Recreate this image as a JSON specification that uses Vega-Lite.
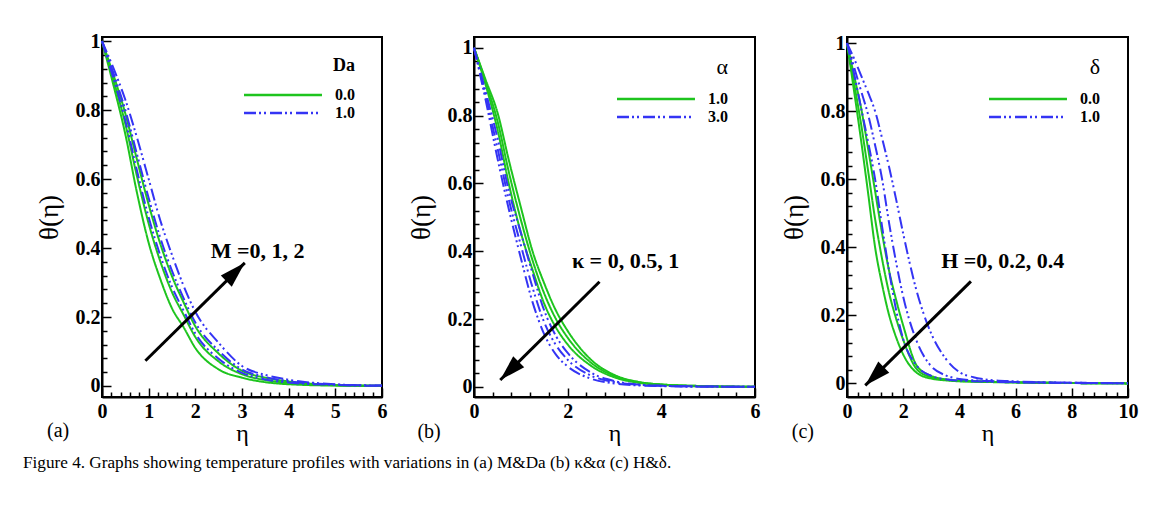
{
"$schema": "https://vega.github.io/schema/vega-lite/v6.json",
"padding": {"left": 23, "top": 30, "right": 5, "bottom": 5},
"background": "white",
"bounds": "flush",
"spacing": 92,
"title": {"text": "Figure 4. Graphs showing temperature profiles with variations in (a) M&Da (b) κ&α (c) H&δ.", "orient": "bottom", "anchor": "start", "frame": "bounds", "font": "Liberation Serif", "fontSize": 17.2, "fontWeight": "normal", "color": "black", "offset": 8, "dx": -11},
"datasets": {
"a": [
{"x":0,"y":1,"g":"0.0","c":"M0"},{"x":0.25,"y":0.87,"g":"0.0","c":"M0"},{"x":0.5,"y":0.73,"g":"0.0","c":"M0"},{"x":0.75,"y":0.56,"g":"0.0","c":"M0"},{"x":1,"y":0.415,"g":"0.0","c":"M0"},{"x":1.25,"y":0.31,"g":"0.0","c":"M0"},{"x":1.5,"y":0.225,"g":"0.0","c":"M0"},{"x":1.75,"y":0.17,"g":"0.0","c":"M0"},{"x":2,"y":0.11,"g":"0.0","c":"M0"},{"x":2.5,"y":0.048,"g":"0.0","c":"M0"},{"x":3,"y":0.024,"g":"0.0","c":"M0"},{"x":3.5,"y":0.011,"g":"0.0","c":"M0"},{"x":4,"y":0.005,"g":"0.0","c":"M0"},{"x":5,"y":0.001,"g":"0.0","c":"M0"},{"x":6,"y":0,"g":"0.0","c":"M0"},
{"x":0,"y":1,"g":"0.0","c":"M1"},{"x":0.25,"y":0.885,"g":"0.0","c":"M1"},{"x":0.5,"y":0.76,"g":"0.0","c":"M1"},{"x":0.75,"y":0.608,"g":"0.0","c":"M1"},{"x":1,"y":0.471,"g":"0.0","c":"M1"},{"x":1.25,"y":0.361,"g":"0.0","c":"M1"},{"x":1.5,"y":0.272,"g":"0.0","c":"M1"},{"x":1.75,"y":0.206,"g":"0.0","c":"M1"},{"x":2,"y":0.142,"g":"0.0","c":"M1"},{"x":2.5,"y":0.071,"g":"0.0","c":"M1"},{"x":3,"y":0.034,"g":"0.0","c":"M1"},{"x":3.5,"y":0.017,"g":"0.0","c":"M1"},{"x":4,"y":0.009,"g":"0.0","c":"M1"},{"x":5,"y":0.002,"g":"0.0","c":"M1"},{"x":6,"y":0,"g":"0.0","c":"M1"},
{"x":0,"y":1,"g":"0.0","c":"M2"},{"x":0.25,"y":0.9,"g":"0.0","c":"M2"},{"x":0.5,"y":0.79,"g":"0.0","c":"M2"},{"x":0.75,"y":0.656,"g":"0.0","c":"M2"},{"x":1,"y":0.526,"g":"0.0","c":"M2"},{"x":1.25,"y":0.412,"g":"0.0","c":"M2"},{"x":1.5,"y":0.318,"g":"0.0","c":"M2"},{"x":1.75,"y":0.242,"g":"0.0","c":"M2"},{"x":2,"y":0.173,"g":"0.0","c":"M2"},{"x":2.5,"y":0.094,"g":"0.0","c":"M2"},{"x":3,"y":0.044,"g":"0.0","c":"M2"},{"x":3.5,"y":0.024,"g":"0.0","c":"M2"},{"x":4,"y":0.013,"g":"0.0","c":"M2"},{"x":5,"y":0.003,"g":"0.0","c":"M2"},{"x":6,"y":0.001,"g":"0.0","c":"M2"},
{"x":0,"y":1,"g":"1.0","c":"B0"},{"x":0.25,"y":0.89,"g":"1.0","c":"B0"},{"x":0.5,"y":0.77,"g":"1.0","c":"B0"},{"x":0.75,"y":0.624,"g":"1.0","c":"B0"},{"x":1,"y":0.489,"g":"1.0","c":"B0"},{"x":1.25,"y":0.378,"g":"1.0","c":"B0"},{"x":1.5,"y":0.287,"g":"1.0","c":"B0"},{"x":1.75,"y":0.218,"g":"1.0","c":"B0"},{"x":2,"y":0.152,"g":"1.0","c":"B0"},{"x":2.5,"y":0.079,"g":"1.0","c":"B0"},{"x":3,"y":0.038,"g":"1.0","c":"B0"},{"x":3.5,"y":0.019,"g":"1.0","c":"B0"},{"x":4,"y":0.01,"g":"1.0","c":"B0"},{"x":5,"y":0.003,"g":"1.0","c":"B0"},{"x":6,"y":0,"g":"1.0","c":"B0"},
{"x":0,"y":1,"g":"1.0","c":"B1"},{"x":0.25,"y":0.905,"g":"1.0","c":"B1"},{"x":0.5,"y":0.8,"g":"1.0","c":"B1"},{"x":0.75,"y":0.672,"g":"1.0","c":"B1"},{"x":1,"y":0.545,"g":"1.0","c":"B1"},{"x":1.25,"y":0.429,"g":"1.0","c":"B1"},{"x":1.5,"y":0.334,"g":"1.0","c":"B1"},{"x":1.75,"y":0.254,"g":"1.0","c":"B1"},{"x":2,"y":0.184,"g":"1.0","c":"B1"},{"x":2.5,"y":0.102,"g":"1.0","c":"B1"},{"x":3,"y":0.048,"g":"1.0","c":"B1"},{"x":3.5,"y":0.026,"g":"1.0","c":"B1"},{"x":4,"y":0.014,"g":"1.0","c":"B1"},{"x":5,"y":0.004,"g":"1.0","c":"B1"},{"x":6,"y":0.001,"g":"1.0","c":"B1"},
{"x":0,"y":1,"g":"1.0","c":"B2"},{"x":0.25,"y":0.92,"g":"1.0","c":"B2"},{"x":0.5,"y":0.83,"g":"1.0","c":"B2"},{"x":0.75,"y":0.72,"g":"1.0","c":"B2"},{"x":1,"y":0.6,"g":"1.0","c":"B2"},{"x":1.25,"y":0.48,"g":"1.0","c":"B2"},{"x":1.5,"y":0.38,"g":"1.0","c":"B2"},{"x":1.75,"y":0.29,"g":"1.0","c":"B2"},{"x":2,"y":0.215,"g":"1.0","c":"B2"},{"x":2.5,"y":0.125,"g":"1.0","c":"B2"},{"x":3,"y":0.058,"g":"1.0","c":"B2"},{"x":3.5,"y":0.032,"g":"1.0","c":"B2"},{"x":4,"y":0.018,"g":"1.0","c":"B2"},{"x":5,"y":0.005,"g":"1.0","c":"B2"},{"x":6,"y":0.001,"g":"1.0","c":"B2"}
],
"b": [
{"x":0,"y":1,"g":"1.0","c":"G0"},{"x":0.25,"y":0.905,"g":"1.0","c":"G0"},{"x":0.5,"y":0.81,"g":"1.0","c":"G0"},{"x":0.75,"y":0.665,"g":"1.0","c":"G0"},{"x":1,"y":0.53,"g":"1.0","c":"G0"},{"x":1.25,"y":0.4,"g":"1.0","c":"G0"},{"x":1.5,"y":0.305,"g":"1.0","c":"G0"},{"x":1.75,"y":0.225,"g":"1.0","c":"G0"},{"x":2,"y":0.165,"g":"1.0","c":"G0"},{"x":2.5,"y":0.08,"g":"1.0","c":"G0"},{"x":3,"y":0.035,"g":"1.0","c":"G0"},{"x":3.5,"y":0.015,"g":"1.0","c":"G0"},{"x":4,"y":0.007,"g":"1.0","c":"G0"},{"x":5,"y":0.002,"g":"1.0","c":"G0"},{"x":6,"y":0,"g":"1.0","c":"G0"},
{"x":0,"y":1,"g":"1.0","c":"G5"},{"x":0.25,"y":0.898,"g":"1.0","c":"G5"},{"x":0.5,"y":0.785,"g":"1.0","c":"G5"},{"x":0.75,"y":0.63,"g":"1.0","c":"G5"},{"x":1,"y":0.493,"g":"1.0","c":"G5"},{"x":1.25,"y":0.373,"g":"1.0","c":"G5"},{"x":1.5,"y":0.275,"g":"1.0","c":"G5"},{"x":1.75,"y":0.2,"g":"1.0","c":"G5"},{"x":2,"y":0.145,"g":"1.0","c":"G5"},{"x":2.5,"y":0.071,"g":"1.0","c":"G5"},{"x":3,"y":0.032,"g":"1.0","c":"G5"},{"x":3.5,"y":0.014,"g":"1.0","c":"G5"},{"x":4,"y":0.007,"g":"1.0","c":"G5"},{"x":5,"y":0.002,"g":"1.0","c":"G5"},{"x":6,"y":0,"g":"1.0","c":"G5"},
{"x":0,"y":1,"g":"1.0","c":"G1"},{"x":0.25,"y":0.89,"g":"1.0","c":"G1"},{"x":0.5,"y":0.76,"g":"1.0","c":"G1"},{"x":0.75,"y":0.595,"g":"1.0","c":"G1"},{"x":1,"y":0.455,"g":"1.0","c":"G1"},{"x":1.25,"y":0.345,"g":"1.0","c":"G1"},{"x":1.5,"y":0.245,"g":"1.0","c":"G1"},{"x":1.75,"y":0.175,"g":"1.0","c":"G1"},{"x":2,"y":0.125,"g":"1.0","c":"G1"},{"x":2.5,"y":0.062,"g":"1.0","c":"G1"},{"x":3,"y":0.028,"g":"1.0","c":"G1"},{"x":3.5,"y":0.012,"g":"1.0","c":"G1"},{"x":4,"y":0.006,"g":"1.0","c":"G1"},{"x":5,"y":0.001,"g":"1.0","c":"G1"},{"x":6,"y":0,"g":"1.0","c":"G1"},
{"x":0,"y":1,"g":"3.0","c":"B0"},{"x":0.25,"y":0.87,"g":"3.0","c":"B0"},{"x":0.5,"y":0.735,"g":"3.0","c":"B0"},{"x":0.75,"y":0.575,"g":"3.0","c":"B0"},{"x":1,"y":0.455,"g":"3.0","c":"B0"},{"x":1.25,"y":0.335,"g":"3.0","c":"B0"},{"x":1.5,"y":0.225,"g":"3.0","c":"B0"},{"x":1.75,"y":0.15,"g":"3.0","c":"B0"},{"x":2,"y":0.1,"g":"3.0","c":"B0"},{"x":2.5,"y":0.042,"g":"3.0","c":"B0"},{"x":3,"y":0.017,"g":"3.0","c":"B0"},{"x":3.5,"y":0.007,"g":"3.0","c":"B0"},{"x":4,"y":0.003,"g":"3.0","c":"B0"},{"x":5,"y":0.001,"g":"3.0","c":"B0"},{"x":6,"y":0,"g":"3.0","c":"B0"},
{"x":0,"y":1,"g":"3.0","c":"B5"},{"x":0.25,"y":0.858,"g":"3.0","c":"B5"},{"x":0.5,"y":0.705,"g":"3.0","c":"B5"},{"x":0.75,"y":0.548,"g":"3.0","c":"B5"},{"x":1,"y":0.418,"g":"3.0","c":"B5"},{"x":1.25,"y":0.293,"g":"3.0","c":"B5"},{"x":1.5,"y":0.19,"g":"3.0","c":"B5"},{"x":1.75,"y":0.123,"g":"3.0","c":"B5"},{"x":2,"y":0.08,"g":"3.0","c":"B5"},{"x":2.5,"y":0.033,"g":"3.0","c":"B5"},{"x":3,"y":0.014,"g":"3.0","c":"B5"},{"x":3.5,"y":0.006,"g":"3.0","c":"B5"},{"x":4,"y":0.003,"g":"3.0","c":"B5"},{"x":5,"y":0.001,"g":"3.0","c":"B5"},{"x":6,"y":0,"g":"3.0","c":"B5"},
{"x":0,"y":1,"g":"3.0","c":"B1"},{"x":0.25,"y":0.845,"g":"3.0","c":"B1"},{"x":0.5,"y":0.675,"g":"3.0","c":"B1"},{"x":0.75,"y":0.52,"g":"3.0","c":"B1"},{"x":1,"y":0.38,"g":"3.0","c":"B1"},{"x":1.25,"y":0.25,"g":"3.0","c":"B1"},{"x":1.5,"y":0.155,"g":"3.0","c":"B1"},{"x":1.75,"y":0.095,"g":"3.0","c":"B1"},{"x":2,"y":0.06,"g":"3.0","c":"B1"},{"x":2.5,"y":0.024,"g":"3.0","c":"B1"},{"x":3,"y":0.01,"g":"3.0","c":"B1"},{"x":3.5,"y":0.004,"g":"3.0","c":"B1"},{"x":4,"y":0.002,"g":"3.0","c":"B1"},{"x":5,"y":0,"g":"3.0","c":"B1"},{"x":6,"y":0,"g":"3.0","c":"B1"}
],
"c": [
{"x":0,"y":1,"g":"0.0","c":"G0"},{"x":0.25,"y":0.905,"g":"0.0","c":"G0"},{"x":0.5,"y":0.81,"g":"0.0","c":"G0"},{"x":0.75,"y":0.69,"g":"0.0","c":"G0"},{"x":1,"y":0.565,"g":"0.0","c":"G0"},{"x":1.25,"y":0.44,"g":"0.0","c":"G0"},{"x":1.5,"y":0.33,"g":"0.0","c":"G0"},{"x":1.75,"y":0.245,"g":"0.0","c":"G0"},{"x":2,"y":0.17,"g":"0.0","c":"G0"},{"x":2.5,"y":0.05,"g":"0.0","c":"G0"},{"x":3,"y":0.022,"g":"0.0","c":"G0"},{"x":3.5,"y":0.012,"g":"0.0","c":"G0"},{"x":4,"y":0.008,"g":"0.0","c":"G0"},{"x":4.5,"y":0.006,"g":"0.0","c":"G0"},{"x":5,"y":0.005,"g":"0.0","c":"G0"},{"x":6,"y":0.003,"g":"0.0","c":"G0"},{"x":8,"y":0.001,"g":"0.0","c":"G0"},{"x":10,"y":0,"g":"0.0","c":"G0"},
{"x":0,"y":1,"g":"0.0","c":"G2"},{"x":0.25,"y":0.883,"g":"0.0","c":"G2"},{"x":0.5,"y":0.763,"g":"0.0","c":"G2"},{"x":0.75,"y":0.625,"g":"0.0","c":"G2"},{"x":1,"y":0.483,"g":"0.0","c":"G2"},{"x":1.25,"y":0.365,"g":"0.0","c":"G2"},{"x":1.5,"y":0.265,"g":"0.0","c":"G2"},{"x":1.75,"y":0.19,"g":"0.0","c":"G2"},{"x":2,"y":0.128,"g":"0.0","c":"G2"},{"x":2.5,"y":0.04,"g":"0.0","c":"G2"},{"x":3,"y":0.018,"g":"0.0","c":"G2"},{"x":3.5,"y":0.011,"g":"0.0","c":"G2"},{"x":4,"y":0.007,"g":"0.0","c":"G2"},{"x":4.5,"y":0.006,"g":"0.0","c":"G2"},{"x":5,"y":0.005,"g":"0.0","c":"G2"},{"x":6,"y":0.003,"g":"0.0","c":"G2"},{"x":8,"y":0.001,"g":"0.0","c":"G2"},{"x":10,"y":0,"g":"0.0","c":"G2"},
{"x":0,"y":1,"g":"0.0","c":"G4"},{"x":0.25,"y":0.86,"g":"0.0","c":"G4"},{"x":0.5,"y":0.715,"g":"0.0","c":"G4"},{"x":0.75,"y":0.56,"g":"0.0","c":"G4"},{"x":1,"y":0.4,"g":"0.0","c":"G4"},{"x":1.25,"y":0.29,"g":"0.0","c":"G4"},{"x":1.5,"y":0.2,"g":"0.0","c":"G4"},{"x":1.75,"y":0.135,"g":"0.0","c":"G4"},{"x":2,"y":0.085,"g":"0.0","c":"G4"},{"x":2.5,"y":0.03,"g":"0.0","c":"G4"},{"x":3,"y":0.014,"g":"0.0","c":"G4"},{"x":3.5,"y":0.009,"g":"0.0","c":"G4"},{"x":4,"y":0.006,"g":"0.0","c":"G4"},{"x":4.5,"y":0.005,"g":"0.0","c":"G4"},{"x":5,"y":0.004,"g":"0.0","c":"G4"},{"x":6,"y":0.003,"g":"0.0","c":"G4"},{"x":8,"y":0.001,"g":"0.0","c":"G4"},{"x":10,"y":0,"g":"0.0","c":"G4"},
{"x":0,"y":1,"g":"1.0","c":"B0"},{"x":0.25,"y":0.955,"g":"1.0","c":"B0"},{"x":0.5,"y":0.905,"g":"1.0","c":"B0"},{"x":0.75,"y":0.855,"g":"1.0","c":"B0"},{"x":1,"y":0.8,"g":"1.0","c":"B0"},{"x":1.25,"y":0.72,"g":"1.0","c":"B0"},{"x":1.5,"y":0.635,"g":"1.0","c":"B0"},{"x":1.75,"y":0.54,"g":"1.0","c":"B0"},{"x":2,"y":0.44,"g":"1.0","c":"B0"},{"x":2.5,"y":0.265,"g":"1.0","c":"B0"},{"x":3,"y":0.146,"g":"1.0","c":"B0"},{"x":3.5,"y":0.074,"g":"1.0","c":"B0"},{"x":4,"y":0.033,"g":"1.0","c":"B0"},{"x":4.5,"y":0.018,"g":"1.0","c":"B0"},{"x":5,"y":0.011,"g":"1.0","c":"B0"},{"x":6,"y":0.006,"g":"1.0","c":"B0"},{"x":8,"y":0.002,"g":"1.0","c":"B0"},{"x":10,"y":0.001,"g":"1.0","c":"B0"},
{"x":0,"y":1,"g":"1.0","c":"B2"},{"x":0.25,"y":0.93,"g":"1.0","c":"B2"},{"x":0.5,"y":0.86,"g":"1.0","c":"B2"},{"x":0.75,"y":0.79,"g":"1.0","c":"B2"},{"x":1,"y":0.7,"g":"1.0","c":"B2"},{"x":1.25,"y":0.6,"g":"1.0","c":"B2"},{"x":1.5,"y":0.47,"g":"1.0","c":"B2"},{"x":1.75,"y":0.355,"g":"1.0","c":"B2"},{"x":2,"y":0.255,"g":"1.0","c":"B2"},{"x":2.5,"y":0.12,"g":"1.0","c":"B2"},{"x":3,"y":0.05,"g":"1.0","c":"B2"},{"x":3.5,"y":0.024,"g":"1.0","c":"B2"},{"x":4,"y":0.013,"g":"1.0","c":"B2"},{"x":4.5,"y":0.009,"g":"1.0","c":"B2"},{"x":5,"y":0.007,"g":"1.0","c":"B2"},{"x":6,"y":0.004,"g":"1.0","c":"B2"},{"x":8,"y":0.002,"g":"1.0","c":"B2"},{"x":10,"y":0,"g":"1.0","c":"B2"},
{"x":0,"y":1,"g":"1.0","c":"B4"},{"x":0.25,"y":0.91,"g":"1.0","c":"B4"},{"x":0.5,"y":0.81,"g":"1.0","c":"B4"},{"x":0.75,"y":0.71,"g":"1.0","c":"B4"},{"x":1,"y":0.6,"g":"1.0","c":"B4"},{"x":1.25,"y":0.46,"g":"1.0","c":"B4"},{"x":1.5,"y":0.33,"g":"1.0","c":"B4"},{"x":1.75,"y":0.215,"g":"1.0","c":"B4"},{"x":2,"y":0.13,"g":"1.0","c":"B4"},{"x":2.5,"y":0.05,"g":"1.0","c":"B4"},{"x":3,"y":0.022,"g":"1.0","c":"B4"},{"x":3.5,"y":0.012,"g":"1.0","c":"B4"},{"x":4,"y":0.008,"g":"1.0","c":"B4"},{"x":4.5,"y":0.006,"g":"1.0","c":"B4"},{"x":5,"y":0.005,"g":"1.0","c":"B4"},{"x":6,"y":0.003,"g":"1.0","c":"B4"},{"x":8,"y":0.001,"g":"1.0","c":"B4"},{"x":10,"y":0,"g":"1.0","c":"B4"}
]
},
"hconcat": [
{
"width": 280, "height": 360,
"layer": [
{"data": {"name": "a"}, "mark": {"type": "line", "strokeWidth": 2, "interpolate": "monotone"},
 "encoding": {
  "x": {"field": "x", "type": "quantitative", "title": "η", "scale": {"domain": [0, 6], "nice": false, "zero": false},
        "axis": {"values": [0,0.2,0.4,0.6,0.8,1,1.2,1.4,1.6,1.8,2,2.2,2.4,2.6,2.8,3,3.2,3.4,3.6,3.8,4,4.2,4.4,4.6,4.8,5,5.2,5.4,5.6,5.8,6], "tickCount": 200, "format": ".0f", "labelOverlap": false,
                 "labelExpr": "abs(datum.value-round(datum.value))<0.001 ? datum.label : ''",
                 "tickSize": {"condition": {"test": "abs(datum.value-round(datum.value))<0.001", "value": -9}, "value": -5}}},
  "y": {"field": "y", "type": "quantitative", "title": "θ(η)", "scale": {"domain": [-0.032, 1.012], "nice": false, "zero": false},
        "axis": {"values": [0,0.04,0.08,0.12,0.16,0.2,0.24,0.28,0.32,0.36,0.4,0.44,0.48,0.52,0.56,0.6,0.64,0.68,0.72,0.76,0.8,0.84,0.88,0.92,0.96,1], "tickCount": 200, "format": ".1~f", "labelOverlap": false,
                 "labelExpr": "abs(datum.value*5-round(datum.value*5))<0.001 ? datum.label : ''",
                 "tickSize": {"condition": {"test": "abs(datum.value*5-round(datum.value*5))<0.001", "value": -9}, "value": -5}}},
  "color": {"field": "g", "type": "nominal", "scale": {"domain": ["0.0", "1.0"], "range": ["#1ec41e", "#3434f4"]},
            "legend": {"title": "Da", "orient": "none", "legendX": 134, "legendY": 20, "titleFontWeight": "bold", "titleFontSize": 18}},
  "strokeDash": {"field": "g", "type": "nominal", "scale": {"domain": ["0.0", "1.0"], "range": [[1, 0], [12, 3, 2, 3, 2, 4]]},
            "legend": {"title": "Da", "orient": "none", "legendX": 134, "legendY": 20, "titleFontWeight": "bold", "titleFontSize": 18}},
  "detail": {"field": "c"}
 }},
{"data": {"values": [{"x": 0.93, "y": 0.073, "x2": 3.06, "y2": 0.357}]}, "mark": {"type": "rule", "strokeWidth": 3, "color": "black"},
 "encoding": {"x": {"field": "x", "type": "quantitative", "title": "η"}, "y": {"field": "y", "type": "quantitative", "title": "θ(η)"}, "x2": {"field": "x2"}, "y2": {"field": "y2"}}},
{"data": {"values": [{"x": 0.93, "y": 0.073, "x2": 3.06, "y2": 0.357}]}, "mark": {"type": "point", "shape": "M0,0L-0.6,2L0.6,2Z", "size": 676, "filled": true, "color": "black", "opacity": 1, "angle": 45.4, "strokeWidth": 0},
 "encoding": {"x": {"field": "x2", "type": "quantitative", "title": "η"}, "y": {"field": "y2", "type": "quantitative", "title": "θ(η)"}}},
{"data": {"values": [{"x": 2.33, "y": 0.39, "t": "M =0, 1, 2"}]}, "mark": {"type": "text", "align": "left", "baseline": "middle", "fontSize": 22, "fontWeight": "bold", "color": "black"},
 "encoding": {"x": {"field": "x", "type": "quantitative", "title": "η"}, "y": {"field": "y", "type": "quantitative", "title": "θ(η)"}, "text": {"field": "t"}}},
{"data": {"values": [{"x": -0.94, "y": -0.132, "t": "(a)"}]}, "mark": {"type": "text", "align": "center", "baseline": "middle", "fontSize": 20, "color": "black"},
 "encoding": {"x": {"field": "x", "type": "quantitative", "title": "η"}, "y": {"field": "y", "type": "quantitative", "title": "θ(η)"}, "text": {"field": "t"}}}
]
},
{
"width": 281, "height": 360,
"layer": [
{"data": {"name": "b"}, "mark": {"type": "line", "strokeWidth": 2, "interpolate": "monotone"},
 "encoding": {
  "x": {"field": "x", "type": "quantitative", "title": "η", "scale": {"domain": [0, 6], "nice": false, "zero": false},
        "axis": {"values": [0,0.4,0.8,1.2,1.6,2,2.4,2.8,3.2,3.6,4,4.4,4.8,5.2,5.6,6], "tickCount": 200, "format": ".0f", "labelOverlap": false,
                 "labelExpr": "abs(datum.value/2-round(datum.value/2))<0.001 ? datum.label : ''",
                 "tickSize": {"condition": {"test": "abs(datum.value/2-round(datum.value/2))<0.001", "value": -9}, "value": -5}}},
  "y": {"field": "y", "type": "quantitative", "title": "θ(η)", "scale": {"domain": [-0.03, 1.032], "nice": false, "zero": false},
        "axis": {"values": [0,0.04,0.08,0.12,0.16,0.2,0.24,0.28,0.32,0.36,0.4,0.44,0.48,0.52,0.56,0.6,0.64,0.68,0.72,0.76,0.8,0.84,0.88,0.92,0.96,1], "tickCount": 200, "format": ".1~f", "labelOverlap": false,
                 "labelExpr": "abs(datum.value*5-round(datum.value*5))<0.001 ? datum.label : ''",
                 "tickSize": {"condition": {"test": "abs(datum.value*5-round(datum.value*5))<0.001", "value": -9}, "value": -5}}},
  "color": {"field": "g", "type": "nominal", "scale": {"domain": ["1.0", "3.0"], "range": ["#1ec41e", "#3434f4"]},
            "legend": {"title": "α", "orient": "none", "legendX": 135, "legendY": 20, "titleFontWeight": "normal", "titleFontSize": 22}},
  "strokeDash": {"field": "g", "type": "nominal", "scale": {"domain": ["1.0", "3.0"], "range": [[1, 0], [12, 3, 2, 3, 2, 4]]},
            "legend": {"title": "α", "orient": "none", "legendX": 135, "legendY": 20, "titleFontWeight": "normal", "titleFontSize": 22}},
  "detail": {"field": "c"}
 }},
{"data": {"values": [{"x": 2.68, "y": 0.31, "x2": 0.56, "y2": 0.02}]}, "mark": {"type": "rule", "strokeWidth": 3, "color": "black"},
 "encoding": {"x": {"field": "x", "type": "quantitative", "title": "η"}, "y": {"field": "y", "type": "quantitative", "title": "θ(η)"}, "x2": {"field": "x2"}, "y2": {"field": "y2"}}},
{"data": {"values": [{"x": 2.68, "y": 0.31, "x2": 0.56, "y2": 0.02}]}, "mark": {"type": "point", "shape": "M0,0L-0.6,2L0.6,2Z", "size": 676, "filled": true, "color": "black", "opacity": 1, "angle": 225.3, "strokeWidth": 0},
 "encoding": {"x": {"field": "x2", "type": "quantitative", "title": "η"}, "y": {"field": "y2", "type": "quantitative", "title": "θ(η)"}}},
{"data": {"values": [{"x": 2.09, "y": 0.37, "t": "κ = 0, 0.5, 1"}]}, "mark": {"type": "text", "align": "left", "baseline": "middle", "fontSize": 22, "fontWeight": "bold", "color": "black"},
 "encoding": {"x": {"field": "x", "type": "quantitative", "title": "η"}, "y": {"field": "y", "type": "quantitative", "title": "θ(η)"}, "text": {"field": "t"}}},
{"data": {"values": [{"x": -0.96, "y": -0.132, "t": "(b)"}]}, "mark": {"type": "text", "align": "center", "baseline": "middle", "fontSize": 20, "color": "black"},
 "encoding": {"x": {"field": "x", "type": "quantitative", "title": "η"}, "y": {"field": "y", "type": "quantitative", "title": "θ(η)"}, "text": {"field": "t"}}}
]
},
{
"width": 281, "height": 360,
"layer": [
{"data": {"name": "c"}, "mark": {"type": "line", "strokeWidth": 2, "interpolate": "monotone"},
 "encoding": {
  "x": {"field": "x", "type": "quantitative", "title": "η", "scale": {"domain": [0, 10], "nice": false, "zero": false},
        "axis": {"values": [0,0.4,0.8,1.2,1.6,2,2.4,2.8,3.2,3.6,4,4.4,4.8,5.2,5.6,6,6.4,6.8,7.2,7.6,8,8.4,8.8,9.2,9.6,10], "tickCount": 200, "format": ".0f", "labelOverlap": false,
                 "labelExpr": "abs(datum.value/2-round(datum.value/2))<0.001 ? datum.label : ''",
                 "tickSize": {"condition": {"test": "abs(datum.value/2-round(datum.value/2))<0.001", "value": -9}, "value": -5}}},
  "y": {"field": "y", "type": "quantitative", "title": "θ(η)", "scale": {"domain": [-0.04, 1.018], "nice": false, "zero": false},
        "axis": {"values": [0,0.04,0.08,0.12,0.16,0.2,0.24,0.28,0.32,0.36,0.4,0.44,0.48,0.52,0.56,0.6,0.64,0.68,0.72,0.76,0.8,0.84,0.88,0.92,0.96,1], "tickCount": 200, "format": ".1~f", "labelOverlap": false,
                 "labelExpr": "abs(datum.value*5-round(datum.value*5))<0.001 ? datum.label : ''",
                 "tickSize": {"condition": {"test": "abs(datum.value*5-round(datum.value*5))<0.001", "value": -9}, "value": -5}}},
  "color": {"field": "g", "type": "nominal", "scale": {"domain": ["0.0", "1.0"], "range": ["#1ec41e", "#3434f4"]},
            "legend": {"title": "δ", "orient": "none", "legendX": 134, "legendY": 20, "titleFontWeight": "normal", "titleFontSize": 22}},
  "strokeDash": {"field": "g", "type": "nominal", "scale": {"domain": ["0.0", "1.0"], "range": [[1, 0], [12, 3, 2, 3, 2, 4]]},
            "legend": {"title": "δ", "orient": "none", "legendX": 134, "legendY": 20, "titleFontWeight": "normal", "titleFontSize": 22}},
  "detail": {"field": "c"}
 }},
{"data": {"values": [{"x": 4.41, "y": 0.3, "x2": 0.65, "y2": -0.006}]}, "mark": {"type": "rule", "strokeWidth": 3, "color": "black"},
 "encoding": {"x": {"field": "x", "type": "quantitative", "title": "η"}, "y": {"field": "y", "type": "quantitative", "title": "θ(η)"}, "x2": {"field": "x2"}, "y2": {"field": "y2"}}},
{"data": {"values": [{"x": 4.41, "y": 0.3, "x2": 0.65, "y2": -0.006}]}, "mark": {"type": "point", "shape": "M0,0L-0.6,2L0.6,2Z", "size": 676, "filled": true, "color": "black", "opacity": 1, "angle": 225.4, "strokeWidth": 0},
 "encoding": {"x": {"field": "x2", "type": "quantitative", "title": "η"}, "y": {"field": "y2", "type": "quantitative", "title": "θ(η)"}}},
{"data": {"values": [{"x": 3.35, "y": 0.36, "t": "H =0, 0.2, 0.4"}]}, "mark": {"type": "text", "align": "left", "baseline": "middle", "fontSize": 22, "fontWeight": "bold", "color": "black"},
 "encoding": {"x": {"field": "x", "type": "quantitative", "title": "η"}, "y": {"field": "y", "type": "quantitative", "title": "θ(η)"}, "text": {"field": "t"}}},
{"data": {"values": [{"x": -1.57, "y": -0.144, "t": "(c)"}]}, "mark": {"type": "text", "align": "center", "baseline": "middle", "fontSize": 20, "color": "black"},
 "encoding": {"x": {"field": "x", "type": "quantitative", "title": "η"}, "y": {"field": "y", "type": "quantitative", "title": "θ(η)"}, "text": {"field": "t"}}}
]
}
],
"resolve": {"scale": {"color": "independent", "strokeDash": "independent", "x": "independent", "y": "independent"}, "legend": {"color": "independent", "strokeDash": "independent"}},
"config": {
 "font": "Liberation Serif",
 "view": {"stroke": "black", "strokeWidth": 2},
 "text": {"font": "Liberation Serif"},
 "axis": {"domainColor": "black", "domainWidth": 2, "tickColor": "black", "tickWidth": 1.5, "ticks": true,
          "labelFont": "Liberation Serif", "labelFontSize": 20, "labelFontWeight": "bold", "labelColor": "black",
          "titleFont": "Liberation Serif", "titleFontWeight": "normal", "titleColor": "black", "grid": false,
          "labelOverlap": false, "labelBound": false, "labelFlush": false},
 "axisX": {"labelPadding": 13, "titleFontSize": 24, "titlePadding": -4},
 "axisY": {"labelPadding": 11, "titleFontSize": 27, "titlePadding": 12},
 "legend": {"symbolType": "M0,0L16,0", "symbolSize": 95, "symbolStrokeWidth": 2.5, "labelFont": "Liberation Serif", "labelFontSize": 16, "labelFontWeight": "bold", "labelColor": "black",
            "labelOffset": 83, "rowPadding": 2, "padding": 0, "titleAnchor": "end", "titlePadding": 12, "titleFont": "Liberation Serif", "titleColor": "black"}
}
}
